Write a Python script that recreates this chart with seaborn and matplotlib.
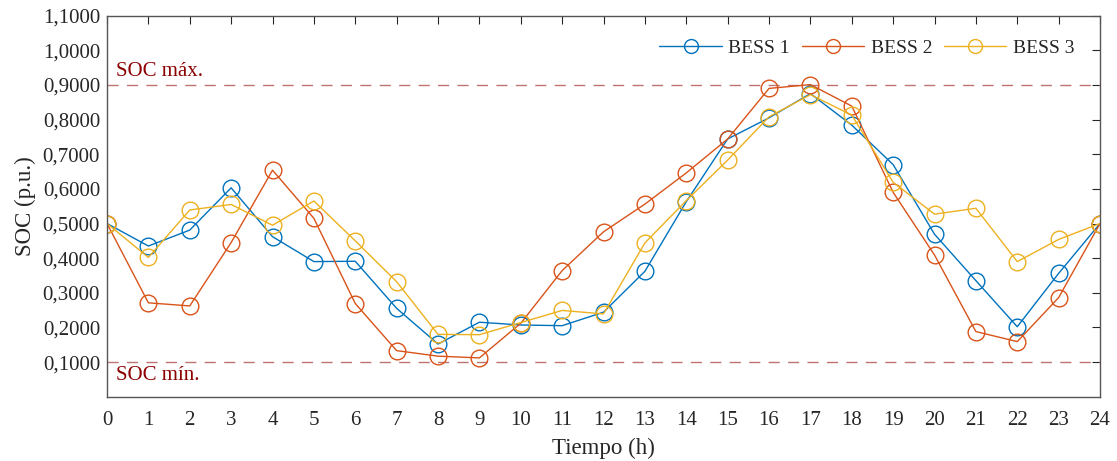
import numpy as np
import pandas as pd
import matplotlib
matplotlib.use("Agg")
import matplotlib.pyplot as plt
import seaborn as sns
from matplotlib.lines import Line2D
from matplotlib.ticker import FuncFormatter

# Hourly state of charge of the three battery systems
hours = list(range(25))
bess1 = [0.500, 0.435, 0.481, 0.603, 0.462, 0.390, 0.391, 0.255, 0.152, 0.215,
         0.207, 0.205, 0.244, 0.362, 0.563, 0.744, 0.805, 0.875, 0.784, 0.670,
         0.469, 0.335, 0.202, 0.356, 0.500]
bess2 = [0.500, 0.271, 0.262, 0.445, 0.654, 0.515, 0.269, 0.133, 0.117, 0.112,
         0.212, 0.364, 0.476, 0.556, 0.646, 0.744, 0.890, 0.901, 0.839, 0.590,
         0.409, 0.188, 0.159, 0.286, 0.500]
bess3 = [0.500, 0.402, 0.539, 0.555, 0.495, 0.565, 0.450, 0.332, 0.180, 0.179,
         0.214, 0.249, 0.239, 0.444, 0.566, 0.683, 0.808, 0.872, 0.813, 0.619,
         0.527, 0.544, 0.390, 0.454, 0.500]
series_names = ["BESS 1", "BESS 2", "BESS 3"]
soc_max = 0.9
soc_min = 0.1

df = pd.DataFrame({"Tiempo": hours * 3,
                   "SOC": bess1 + bess2 + bess3,
                   "BESS": np.repeat(series_names, len(hours))})

sns.set_theme(style="white")
plt.rcParams["font.family"] = ["Liberation Serif", "DejaVu Serif"]

palette = ["#0072BD", "#D95319", "#EDB120"]
text_col = "#262626"

fig = plt.figure(figsize=(11.17, 4.61), dpi=100)
ax = fig.add_axes([0.0958, 0.1395, 0.889, 0.8265])

sns.lineplot(data=df, x="Tiempo", y="SOC", hue="BESS", palette=palette,
             marker="o", markersize=12, markerfacecolor="none",
             markeredgewidth=1.0, linewidth=1.0, ax=ax, legend=False)
for line, c in zip(ax.lines, palette):
    line.set_markeredgecolor(c)

# Operating limits
ax.axhline(soc_max, color="#b45a5a", linestyle=(0, (8, 6)), linewidth=1.0, alpha=0.85, zorder=1)
ax.axhline(soc_min, color="#b45a5a", linestyle=(0, (8, 6)), linewidth=1.0, alpha=0.85, zorder=1)
ax.text(0.22, soc_max + 0.012, "SOC máx.", color="#8B0000", fontsize=15, va="bottom", ha="left")
ax.text(0.22, soc_min - 0.012, "SOC mín.", color="#8B0000", fontsize=15, va="top", ha="left")

ax.set_xlim(0, 24)
ax.set_ylim(0, 1.1)
ax.set_xticks(range(0, 25))
ax.set_yticks(np.round(np.arange(0.1, 1.101, 0.1), 1))
ax.yaxis.set_major_formatter(FuncFormatter(lambda v, p: f"{v:.4f}".replace(".", ",")))
ax.tick_params(direction="in", length=6, width=0.8, color=text_col,
               top=True, right=True, labelsize=15, labelcolor=text_col)
ax.tick_params(axis="x", pad=10)
ax.tick_params(axis="y", pad=5)
for s in ax.spines.values():
    s.set_linewidth(1.0)
    s.set_color("#555555")

ax.set_xlabel("Tiempo (h)", fontsize=16.5, color=text_col, labelpad=6)
ax.set_ylabel("SOC (p.u.)", fontsize=16.5, color=text_col, labelpad=5)

handles = [Line2D([], [], color=c, linewidth=1.0, marker="o", markersize=10,
                  markerfacecolor="none", markeredgecolor=c) for c in palette]
ax.legend(handles, series_names, loc="upper right", ncol=3, frameon=False,
          fontsize=14, bbox_to_anchor=(0.992, 0.985), handlelength=3.2,
          columnspacing=0.6, handletextpad=0.35)

fig.savefig("out.png", dpi=100)
